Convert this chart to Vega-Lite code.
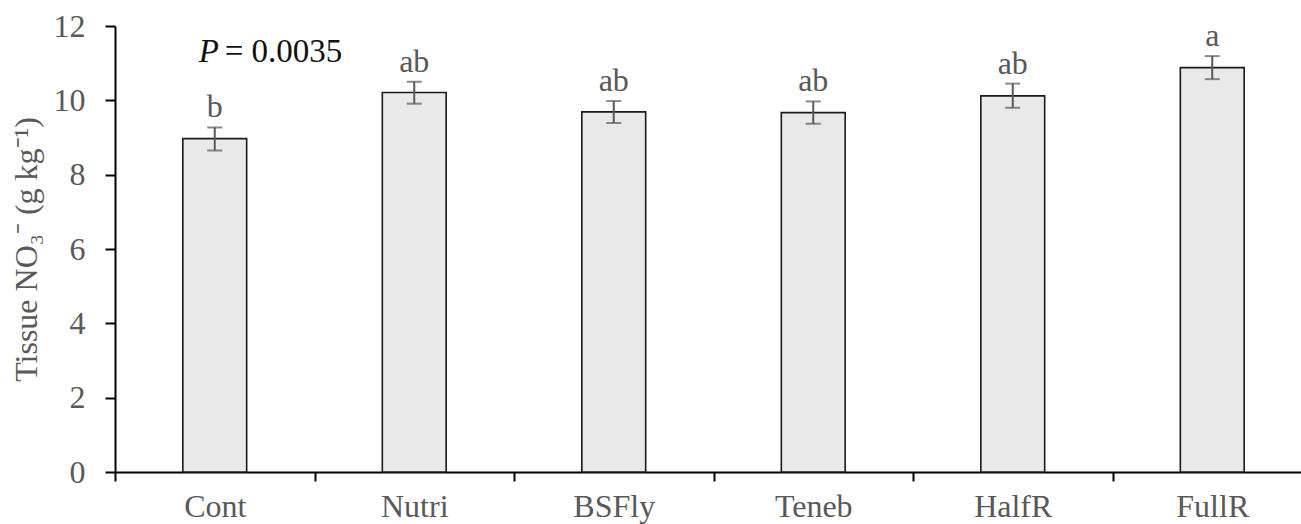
{
  "$schema": "https://vega.github.io/schema/vega-lite/v6.json",
  "autosize": {"type": "none"},
  "padding": {"left": 115, "top": 26, "right": 0, "bottom": 52},
  "width": 1186,
  "height": 446,
  "background": "white",
  "config": {
    "view": {"stroke": null},
    "font": "Liberation Serif",
    "text": {"font": "Liberation Serif"},
    "axis": {
      "domainColor": "#000000",
      "domainWidth": 2,
      "tickColor": "#000000",
      "tickWidth": 2,
      "labelFont": "Liberation Serif",
      "labelColor": "#595959",
      "titleFont": "Liberation Serif",
      "titleFontWeight": "normal",
      "titleColor": "#595959",
      "grid": false
    }
  },
  "data": {
    "values": [
      {"trt": "Cont", "mean": 8.97, "lo": 8.65, "hi": 9.27, "letter": "b"},
      {"trt": "Nutri", "mean": 10.21, "lo": 9.91, "hi": 10.5, "letter": "ab"},
      {"trt": "BSFly", "mean": 9.69, "lo": 9.39, "hi": 9.98, "letter": "ab"},
      {"trt": "Teneb", "mean": 9.67, "lo": 9.37, "hi": 9.97, "letter": "ab"},
      {"trt": "HalfR", "mean": 10.12, "lo": 9.8, "hi": 10.45, "letter": "ab"},
      {"trt": "FullR", "mean": 10.88, "lo": 10.57, "hi": 11.19, "letter": "a"}
    ]
  },
  "encoding": {
    "x": {
      "field": "trt",
      "type": "nominal",
      "sort": null,
      "scale": {"paddingInner": 0, "paddingOuter": 0, "range": [0, 1197]},
      "axis": {
        "title": null,
        "labelAngle": 0,
        "labelFontSize": 32,
        "tickBand": "extent",
        "tickSize": 9,
        "labelPadding": 10
      }
    }
  },
  "layer": [
    {
      "mark": {"type": "bar", "width": {"band": 0.32}, "fill": "#e9e9e9", "stroke": "#1a1a1a", "strokeWidth": 1.6},
      "encoding": {
        "y": {
          "field": "mean",
          "type": "quantitative",
          "scale": {"domain": [0, 12], "nice": false},
          "axis": {
            "title": "Tissue NO₃⁻ (g kg⁻¹)",
            "titleFontSize": 32,
            "labelFontSize": 32,
            "values": [0, 2, 4, 6, 8, 10, 12],
            "tickSize": 10,
            "labelPadding": 20,
            "titlePadding": 10
          }
        }
      }
    },
    {
      "mark": {"type": "rule", "color": "#595959", "strokeWidth": 2},
      "encoding": {
        "y": {"field": "lo", "type": "quantitative"},
        "y2": {"field": "hi"}
      }
    },
    {
      "mark": {"type": "tick", "color": "#595959", "size": 15, "thickness": 2},
      "encoding": {"y": {"field": "lo", "type": "quantitative"}}
    },
    {
      "mark": {"type": "tick", "color": "#595959", "size": 15, "thickness": 2},
      "encoding": {"y": {"field": "hi", "type": "quantitative"}}
    },
    {
      "mark": {"type": "text", "font": "Liberation Serif", "fontSize": 32, "color": "#595959", "baseline": "alphabetic", "dy": -10},
      "encoding": {
        "y": {"field": "hi", "type": "quantitative"},
        "text": {"field": "letter"}
      }
    },
    {
      "data": {"values": [{"trt": "Cont", "pos": 11.02, "part": "P"}]},
      "mark": {"type": "text", "font": "Liberation Serif", "fontSize": 33, "fontStyle": "italic", "color": "#111111", "align": "left", "baseline": "alphabetic", "dx": -16},
      "encoding": {
        "y": {"field": "pos", "type": "quantitative"},
        "text": {"field": "part"}
      }
    },
    {
      "data": {"values": [{"trt": "Cont", "pos": 11.02, "part": "= 0.0035"}]},
      "mark": {"type": "text", "font": "Liberation Serif", "fontSize": 33, "color": "#111111", "align": "left", "baseline": "alphabetic", "dx": 10},
      "encoding": {
        "y": {"field": "pos", "type": "quantitative"},
        "text": {"field": "part"}
      }
    }
  ]
}
